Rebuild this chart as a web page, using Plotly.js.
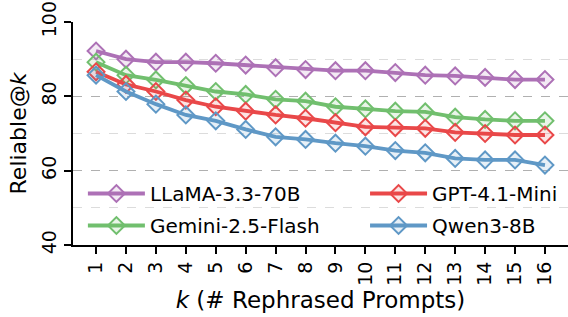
<!DOCTYPE html>
<html>
<head>
<meta charset="utf-8">
<script src="https://cdn.plot.ly/plotly-3.0.1.min.js"></script>
<style>html,body{margin:0;padding:0;background:#fff;}#chart{width:568px;height:317px;}</style>
</head>
<body>
<div id="chart"></div>
<script>
const kValues = [1,2,3,4,5,6,7,8,9,10,11,12,13,14,15,16];
const tickLabels = ["1","2","3","4","5","6","7","8","9","10","11","12","13","14","15","16"];
const llama = [92.2,90.0,89.2,89.2,88.9,88.4,87.7,87.2,86.9,86.9,86.4,85.7,85.5,85.1,84.5,84.5];
const gemini = [89.2,85.7,84.4,82.9,81.3,80.5,79.2,78.7,77.2,76.6,76.0,75.8,74.4,73.8,73.4,73.4];
const gpt = [86.6,83.2,81.3,79.0,77.2,76.0,75.0,74.1,72.9,71.8,71.6,71.4,70.3,70.0,69.6,69.6];
const qwen = [85.7,81.3,77.9,75.0,73.4,71.1,69.1,68.4,67.4,66.6,65.4,64.8,63.3,62.9,62.9,61.5];
const seriesNames = ["LLaMA-3.3-70B","GPT-4.1-Mini","Gemini-2.5-Flash","Qwen3-8B"];

function mk(name, y, col, fill, legend){
  return {
    x: kValues, y: y, name: name, type: 'scatter', mode: 'lines+markers',
    legend: legend, legendgroup: name,
    line: {color: col, width: 3.8},
    marker: {symbol: 'diamond', size: 13, color: fill, line: {color: col, width: 2}}
  };
}
const data = [
  mk(seriesNames[0], llama, 'rgb(173,113,182)', 'rgba(173,113,182,0.15)', 'legend'),
  mk(seriesNames[2], gemini, 'rgb(113,191,110)', 'rgba(113,191,110,0.15)', 'legend'),
  mk(seriesNames[1], gpt, 'rgb(233,72,73)', 'rgba(233,72,73,0.15)', 'legend2'),
  mk(seriesNames[3], qwen, 'rgb(95,152,198)', 'rgba(95,152,198,0.15)', 'legend2')
];
const legendCommon = {
  orientation: 'v', bgcolor: 'rgba(0,0,0,0)', borderwidth: 0,
  font: {family: 'DejaVu Sans', size: 20, color: '#000'},
  yanchor: 'bottom', y: 0.0, xanchor: 'left', tracegroupgap: 3, itemwidth: 57
};
const layout = {
  width: 568, height: 317,
  margin: {l: 73, r: 0, t: 22, b: 72},
  paper_bgcolor: '#fff', plot_bgcolor: '#fff',
  font: {family: 'DejaVu Sans', color: '#000'},
  showlegend: true,
  legend: Object.assign({}, legendCommon, {x: 0.02}),
  legend2: Object.assign({}, legendCommon, {x: 0.59}),
  xaxis: {
    range: [0.23, 16.77], tickmode: 'array', tickvals: kValues, ticktext: tickLabels,
    tickangle: -90, tickfont: {size: 19}, ticks: 'outside', ticklen: 7, tickwidth: 2, tickcolor: '#000',
    showline: true, linecolor: '#000', linewidth: 2, showgrid: false, zeroline: false,
    title: {text: '<i>k</i> (# Rephrased Prompts)', font: {size: 23}, standoff: 7}
  },
  yaxis: {
    range: [40, 100], tick0: 40, dtick: 20, tickangle: -90, tickfont: {size: 19},
    ticks: 'outside', ticklen: 7, tickwidth: 2, tickcolor: '#000',
    showline: true, linecolor: '#000', linewidth: 2, zeroline: false,
    showgrid: true, gridcolor: '#b0b0b0', griddash: 'dash', gridwidth: 1.4,
    minor: {dtick: 10, tick0: 40, showgrid: true, gridcolor: '#dcdcdc', griddash: 'dash', gridwidth: 1.3, ticks: ''},
    title: {text: 'Reliable@<i>k</i>', font: {size: 22}, standoff: 6}
  }
};
Plotly.newPlot('chart', data, layout, {displayModeBar: false, staticPlot: true});
</script>
</body>
</html>
